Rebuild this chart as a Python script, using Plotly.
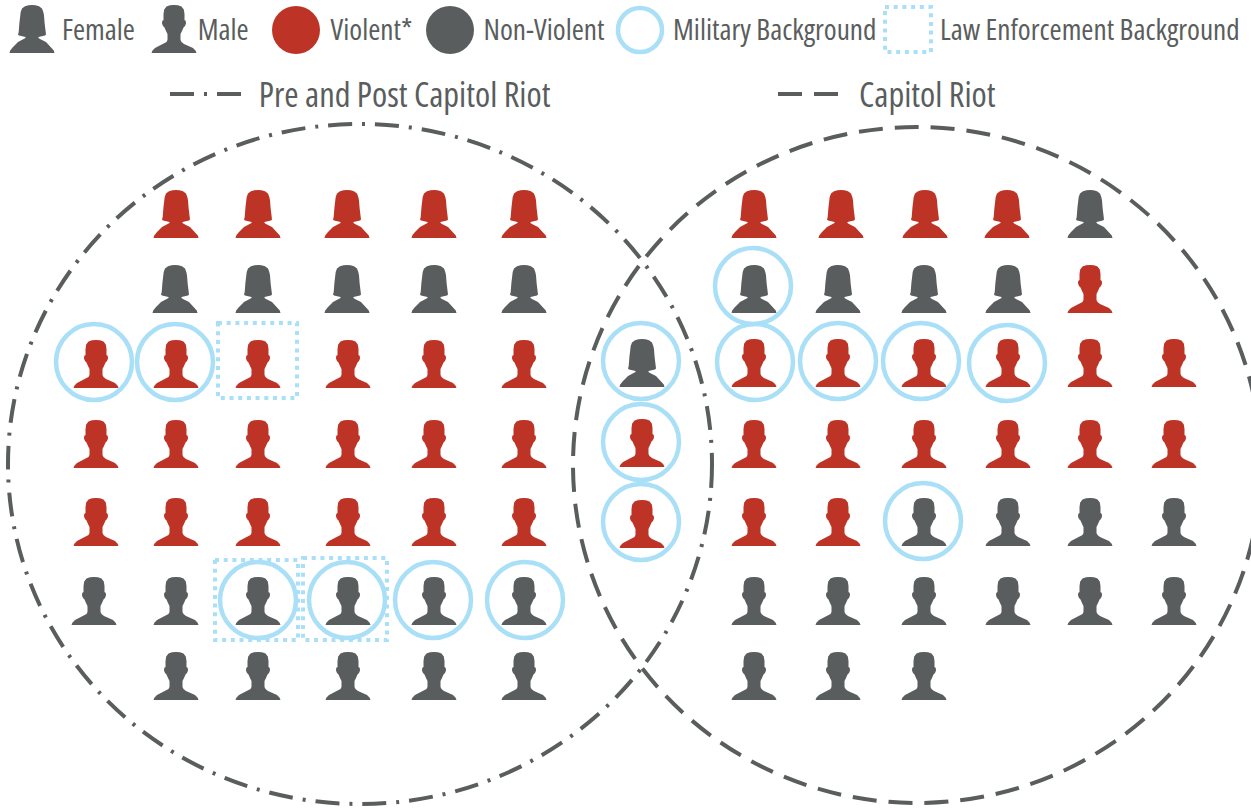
import plotly.graph_objects as go

GRAY = "#5a5d5d"
RED = "#bd3426"
BLUE = "#a9dff7"
FONT = "Open Sans"

# Person positions: (x centre, baseline y) in the picture's coordinate frame
female_red_x = [176, 258, 347, 434, 524, 754, 841, 925, 1007]
female_red_y = [238] * 9
female_gray_x = [175, 258, 347, 434, 524, 642, 754, 838, 924, 1008, 1090]
female_gray_y = [313, 313, 313, 313, 313, 387, 313, 313, 313, 313, 238]
male_red_x = [96, 176, 258, 348, 434, 524,
              96, 176, 258, 348, 434, 524,
              96, 176, 258, 348, 434, 524,
              642, 642, 1090,
              754, 838, 924, 1008, 1090, 1174,
              754, 838, 924, 1008, 1090, 1174,
              754, 838]
male_red_y = [388] * 6 + [468] * 6 + [546] * 6 + [467, 548, 313] + [387] * 6 + [468] * 6 + [546] * 2
male_gray_x = [94, 176, 258, 348, 434, 524,
               176, 258, 348, 434, 524,
               924, 1008, 1090, 1174,
               754, 838, 924, 1008, 1090, 1174,
               754, 838, 924]
male_gray_y = [625] * 6 + [700] * 5 + [546] * 4 + [625] * 6 + [700] * 3

military_x = [94, 175, 258, 347, 433, 525, 641, 641, 641, 753, 755, 838, 921, 1007, 923]
military_y = [362, 362, 600, 600, 600, 600, 361, 442, 522, 286, 362, 361, 361, 363, 521]
law_x0 = [218, 215, 303]
law_x1 = [297, 298, 387]
law_y0 = [323, 560, 558]
law_y1 = [398, 640, 640]

legend_labels = ["Female", "Male", "Violent*", "Non-Violent", "Military Background", "Law Enforcement Background"]
legend_label_x = [98, 222.5, 371, 544, 774.5, 1090]
set_labels = ["Pre and Post Capitol Riot", "Capitol Riot"]
set_label_x = [404, 927]

# Half outlines of the two person glyphs (offset from centre, height above base)
MALE = [(0, 48), (4, 47.8), (7.5, 46.5), (9.8, 43.5), (10.5, 39), (10.5, 33), (11.8, 32), (12, 29.5),
        (11, 27), (9.5, 25.5), (8, 22), (6.5, 19), (6.5, 13), (7.5, 11), (10, 9), (15, 7), (19, 5),
        (21.5, 2.5), (22.5, 0)]
FEMALE = [(0, 48), (3.5, 47.8), (7, 46.8), (10, 44.4), (11.3, 41), (12, 37.7), (12.6, 30), (13.3, 21),
          (14, 18.6), (13, 17.4), (9, 16.5), (6.5, 16), (6.5, 15), (8, 14), (14, 11), (19, 6),
          (21.8, 2.5), (22.5, 0)]


def people(xs, ys, outline, color, name):
    px, py = [], []
    for cx, base in zip(xs, ys):
        loop = outline + [(-a, b) for a, b in reversed(outline[1:])]
        px += [cx + a for a, _ in loop] + [cx + outline[0][0], None]
        py += [base - b for _, b in loop] + [base - outline[0][1], None]
    return go.Scatter(x=px, y=py, mode="lines", fill="toself", fillcolor=color,
                      line=dict(width=0, color=color), name=name, hoverinfo="skip", showlegend=False)


fig = go.Figure()
fig.add_trace(people(female_red_x, female_red_y, FEMALE, RED, "Female violent"))
fig.add_trace(people(female_gray_x + [32], female_gray_y + [53], FEMALE, GRAY, "Female non-violent"))
fig.add_trace(people(male_red_x, male_red_y, MALE, RED, "Male violent"))
fig.add_trace(people(male_gray_x + [174], male_gray_y + [53], MALE, GRAY, "Male non-violent"))

# Rings
R = 38
for cx, cy in zip(military_x, military_y):
    fig.add_shape(type="circle", x0=cx - R, x1=cx + R, y0=cy - R, y1=cy + R,
                  line=dict(color=BLUE, width=4.5))
# Dotted squares
DOT = "4px,4.7px"
for a, b, c, d in zip(law_x0, law_x1, law_y0, law_y1):
    fig.add_shape(type="rect", x0=a, x1=b, y0=c, y1=d, line=dict(color=BLUE, width=4, dash=DOT))

# Venn sets
DASHDOT = "24px,10px,3px,10px"
DASHED = "24px,12px"
fig.add_shape(type="circle", x0=8, x1=712, y0=124, y1=804, line=dict(color=GRAY, width=4, dash=DASHDOT))
fig.add_shape(type="circle", x0=573, x1=1261, y0=127, y1=803, line=dict(color=GRAY, width=4, dash=DASHED))

# Legend keys
fig.add_shape(type="circle", x0=272, x1=320, y0=6, y1=54, fillcolor=RED, line=dict(width=0))
fig.add_shape(type="circle", x0=426, x1=474, y0=6, y1=54, fillcolor=GRAY, line=dict(width=0))
fig.add_shape(type="circle", x0=618, x1=662, y0=8, y1=52, line=dict(color=BLUE, width=4.5))
fig.add_shape(type="rect", x0=885, x1=931, y0=7, y1=52, line=dict(color=BLUE, width=4, dash=DOT))
fig.add_shape(type="line", x0=170, x1=242, y0=94, y1=94, line=dict(color=GRAY, width=4, dash=DASHDOT))
fig.add_shape(type="line", x0=778, x1=838, y0=94, y1=94, line=dict(color=GRAY, width=4, dash=DASHED))

for label, x in zip(legend_labels, legend_label_x):
    fig.add_annotation(x=x, y=28.5, text=label, xanchor="center", yanchor="middle", showarrow=False,
                       font=dict(family=FONT, size=29.3, color=GRAY, weight=400))
for label, x in zip(set_labels, set_label_x):
    fig.add_annotation(x=x, y=93, text=label, xanchor="center", yanchor="middle", showarrow=False,
                       font=dict(family=FONT, size=34.5, color=GRAY, weight=400))

fig.update_xaxes(range=[0, 1251], visible=False, fixedrange=True)
fig.update_yaxes(range=[808, 0], visible=False, fixedrange=True)
fig.update_layout(width=1251, height=808, margin=dict(l=0, r=0, t=0, b=0),
                  paper_bgcolor="white", plot_bgcolor="white", showlegend=False)
fig.write_html("out.html", config={"displayModeBar": False},
               post_script="document.body.style.margin='0';"
                           "document.querySelectorAll('.annotation-text').forEach(function(e){e.style.fontStretch='75%';});")
